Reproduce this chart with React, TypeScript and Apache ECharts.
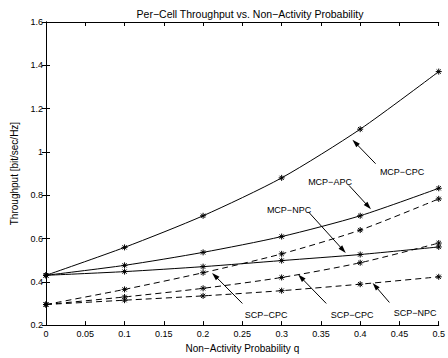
import React, { useEffect, useRef } from "react";
import * as echarts from "echarts";

const qValues = [0, 0.1, 0.2, 0.3, 0.4, 0.5];
const mcpCpc = [0.43, 0.559, 0.705, 0.88, 1.105, 1.371];
const mcpApc = [0.43, 0.476, 0.536, 0.609, 0.705, 0.832];
const mcpNpc = [0.43, 0.447, 0.47, 0.498, 0.526, 0.561];
const scpApc = [0.295, 0.365, 0.442, 0.529, 0.639, 0.783];
const scpCpc = [0.295, 0.33, 0.37, 0.42, 0.488, 0.579];
const scpNpc = [0.295, 0.315, 0.335, 0.359, 0.389, 0.423];

const titleText = "Per\u2212Cell Throughput vs. Non\u2212Activity Probability";
const xName = "Non\u2212Activity Probability q";
const yName = "Throughput [bit/sec/Hz]";

// annotation arrows in data coordinates: [tailX, tailY, tipX, tipY]
const arrows = [
  [0.4196, 0.9455, 0.3937, 1.0425],
  [0.3857, 0.8455, 0.4103, 0.7484],
  [0.3342, 0.7227, 0.3782, 0.5468],
  [0.25, 0.3, 0.215, 0.428],
  [0.3568, 0.3, 0.3246, 0.42],
  [0.4372, 0.3045, 0.4191, 0.381],
];
const annotationTexts = ["MCP\u2212CPC", "MCP\u2212APC", "MCP\u2212NPC", "SCP\u2212CPC", "SCP\u2212CPC", "SCP\u2212NPC"];
const annotationPos = [
  [402, 172],
  [330, 182],
  [289, 210],
  [266, 315],
  [352, 315],
  [415, 313],
];

const FONT = "'Liberation Sans', Arial, Helvetica, sans-serif";
const STAR = "path://M0,-10L0,10M-10,0L10,0M-7.07,-7.07L7.07,7.07M-7.07,7.07L7.07,-7.07";

function mkSeries(name: string, vals: number[], dashed: boolean, extra: any = {}) {
  return {
    name,
    type: "line",
    xAxisIndex: 0,
    yAxisIndex: 0,
    data: qValues.map((q, i) => [q, vals[i]]),
    smooth: 0.25,
    symbol: STAR,
    symbolSize: 6,
    showAllSymbol: true,
    lineStyle: { color: "#000", width: 1, type: dashed ? [6, 4] : "solid" },
    itemStyle: { color: "#000", borderColor: "#000", borderWidth: 1 },
    emphasis: { disabled: true },
    ...extra,
  };
}

export default function App() {
  const ref = useRef<HTMLDivElement>(null);
  useEffect(() => {
    if (!ref.current) return;
    const chart = echarts.init(ref.current, undefined, { renderer: "svg" });
    const axisCommon = {
      axisLine: { show: true, lineStyle: { color: "#000", width: 1 } },
      axisTick: { show: true, inside: true, length: 4, lineStyle: { color: "#000" } },
      splitLine: { show: false },
    };
    chart.setOption({
      animation: false,
      title: {
        text: titleText,
        left: 245,
        textAlign: "center",
        top: 3,
        textStyle: { fontSize: 10.5, fontWeight: "normal", color: "#000", fontFamily: FONT },
      },
      grid: { left: 46, right: 4, top: 22, bottom: 28 },
      xAxis: [
        {
          type: "value",
          min: 0,
          max: 0.5,
          interval: 0.05,
          position: "bottom",
          name: xName,
          nameLocation: "middle",
          nameGap: 15,
          nameTextStyle: { fontSize: 10, color: "#000", fontFamily: FONT },
          axisLabel: { fontSize: 9, color: "#000", fontFamily: FONT, margin: 4, showMaxLabel: true },
          ...axisCommon,
        },
        {
          type: "value",
          min: 0,
          max: 0.5,
          interval: 0.05,
          position: "top",
          axisLabel: { show: false },
          ...axisCommon,
        },
      ],
      yAxis: [
        {
          type: "value",
          min: 0.2,
          max: 1.6,
          interval: 0.2,
          position: "left",
          name: yName,
          nameLocation: "middle",
          nameGap: 20,
          nameTextStyle: { fontSize: 10, color: "#000", fontFamily: FONT },
          axisLabel: { fontSize: 9, color: "#000", fontFamily: FONT, margin: 3 },
          ...axisCommon,
        },
        {
          type: "value",
          min: 0.2,
          max: 1.6,
          interval: 0.2,
          position: "right",
          axisLabel: { show: false },
          ...axisCommon,
        },
      ],
      series: [
        mkSeries("MCP-CPC", mcpCpc, false, {
          markLine: {
            silent: true,
            symbol: ["none", "triangle"],
            lineStyle: { type: "solid", color: "#000", width: 1 },
            label: { show: false },
            emphasis: { disabled: true },
            data: arrows.map((a) => [
              { coord: [a[0], a[1]] },
              { coord: [a[2], a[3]], symbol: "triangle", symbolSize: [5, 8] },
            ]),
          },
        }),
        mkSeries("MCP-APC", mcpApc, false),
        mkSeries("MCP-NPC", mcpNpc, false),
        mkSeries("SCP-APC", scpApc, true),
        mkSeries("SCP-CPC", scpCpc, true),
        mkSeries("SCP-NPC", scpNpc, true),
      ],
      graphic: annotationTexts.map((t, i) => ({
        type: "text",
        x: annotationPos[i][0],
        y: annotationPos[i][1],
        silent: true,
        style: {
          text: t,
          fill: "#000",
          fontSize: 9,
          fontFamily: FONT,
          align: "center",
          verticalAlign: "middle",
        },
      })),
    });
    return () => chart.dispose();
  }, []);
  return (
    <div
      ref={ref}
      style={{ position: "fixed", left: 0, top: 0, width: 448, height: 358, background: "#fff" }}
    />
  );
}
